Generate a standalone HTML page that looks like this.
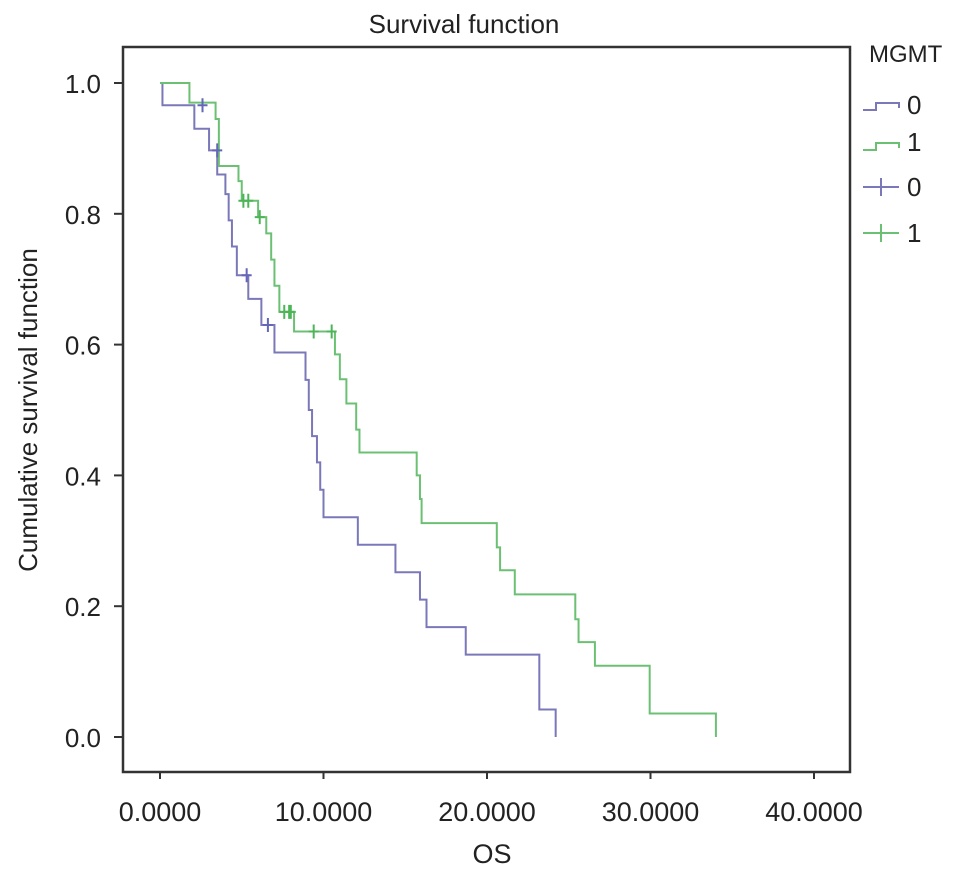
<!DOCTYPE html>
<html><head><meta charset="utf-8"><style>
body{margin:0;background:#fff;}
svg{display:block;font-family:"Liberation Sans",Arial,sans-serif;}
</style></head><body>
<svg id="chart" width="969" height="878" viewBox="0 0 969 878">
<text x="464" y="33" font-size="26" text-anchor="middle" fill="#222">Survival function</text>
<rect x="123" y="47" width="727" height="725" fill="none" stroke="#333" stroke-width="2.5"/>
<g id="axes"></g>
<g id="series"></g>
<text x="492" y="863" font-size="27" text-anchor="middle" fill="#222">OS</text>
<text transform="translate(37,410) rotate(-90)" font-size="26" text-anchor="middle" fill="#222">Cumulative survival function</text>
<g>
<text x="869" y="62" font-size="24" fill="#222">MGMT</text>
<g><path d="M863 110 H876 V103 H899 V108" fill="none" stroke="#7a78b8" stroke-width="2"/><text x="907" y="114" font-size="26" fill="#222">0</text></g>
<g><path d="M863 150 H876 V143 H899 V148" fill="none" stroke="#6cc073" stroke-width="2"/><text x="907" y="151" font-size="26" fill="#222">1</text></g>
<g><path d="M863 187 H899 M881 178 V196" fill="none" stroke="#7a78b8" stroke-width="2"/><text x="907" y="196" font-size="26" fill="#222">0</text></g>
<g><path d="M863 233 H899 M881 224 V242" fill="none" stroke="#6cc073" stroke-width="2"/><text x="907" y="242" font-size="26" fill="#222">1</text></g>
</g>
</svg>
<script>
const xTicks=[0,10,20,30,40];
const xTickLabels=["0.0000","10.0000","20.0000","30.0000","40.0000"];
const yTicks=[0,0.2,0.4,0.6,0.8,1.0];
const yTickLabels=["0.0","0.2","0.4","0.6","0.8","1.0"];
// group 0 (blue): event times and survival after each step
const blueTimes=[0.15,2.1,3.0,3.5,4.0,4.2,4.4,4.7,5.4,6.2,7.0,8.9,9.1,9.3,9.6,9.8,10.0,12.1,14.4,15.9,16.3,18.7,23.2,24.2];
const blueSurv=[0.966,0.93,0.897,0.86,0.83,0.79,0.75,0.706,0.67,0.63,0.588,0.546,0.50,0.46,0.42,0.378,0.336,0.294,0.252,0.21,0.168,0.126,0.042,0];
const blueCensT=[2.6,3.5,5.3,6.6];
const blueCensS=[0.966,0.897,0.706,0.63];
// group 1 (green)
const greenTimes=[1.8,3.4,3.6,4.8,5.0,6.0,6.5,6.8,7.0,7.3,8.2,10.7,11.0,11.4,12.0,12.2,15.7,15.9,16.0,20.6,20.8,21.7,25.4,25.6,26.6,29.95,34.0];
const greenSurv=[0.97,0.945,0.873,0.85,0.82,0.795,0.77,0.73,0.69,0.65,0.62,0.585,0.547,0.51,0.47,0.435,0.40,0.364,0.327,0.29,0.255,0.218,0.18,0.145,0.109,0.036,0];
const greenCensT=[5.1,5.4,6.1,7.6,7.9,8.0,9.4,10.5];
const greenCensS=[0.82,0.82,0.795,0.65,0.65,0.65,0.62,0.62];

const NS="http://www.w3.org/2000/svg";
const xS=t=>160+t*16.35;
const yS=v=>737-v*654;
const axes=document.getElementById('axes'), ser=document.getElementById('series');
function mk(tag,attrs,parent){const e=document.createElementNS(NS,tag);for(const k in attrs)e.setAttribute(k,attrs[k]);parent.appendChild(e);return e;}
xTicks.forEach((t,i)=>{
  const l=mk('line',{x1:xS(t),x2:xS(t),y1:772,y2:779,stroke:'#333','stroke-width':2},axes);
  
  
  const tx=mk('text',{x:xS(t),y:821,'font-size':27,'text-anchor':'middle',fill:'#222'},axes);
  tx.textContent=xTickLabels[i];
  
  
});
yTicks.forEach((v,i)=>{
  const l=mk('line',{x1:114,x2:123,y1:yS(v),y2:yS(v),stroke:'#333','stroke-width':2},axes);
  
  
  const tx=mk('text',{x:101,y:yS(v)+10,'font-size':26,'text-anchor':'end',fill:'#222'},axes);
  tx.textContent=yTickLabels[i];
  
  
});
function curve(times,surv,color,name){
  let d='M'+xS(0)+' '+yS(1);
  times.forEach((t,i)=>{d+=' H'+xS(t)+' V'+yS(surv[i]);});
  const p=mk('path',{d:d,fill:'none',stroke:color,'stroke-width':2},ser);
  
  
}
function cens(ts,ss,color,name){
  ts.forEach((t,i)=>{
    const p=mk('path',{d:'M'+xS(t)+' '+(yS(ss[i])-7)+' V'+(yS(ss[i])+7)+' M'+(xS(t)-5)+' '+yS(ss[i])+' H'+(xS(t)+5),stroke:color,'stroke-width':2,fill:'none'},ser);
    
    
  });
}
curve(blueTimes,blueSurv,'#7a78b8','survival-curve-mgmt-0');
curve(greenTimes,greenSurv,'#6cc073','survival-curve-mgmt-1');
cens(blueCensT,blueCensS,'#6466b8','censor-mark-mgmt-0');
cens(greenCensT,greenCensS,'#4cb558','censor-mark-mgmt-1');
</script>
</body></html>
